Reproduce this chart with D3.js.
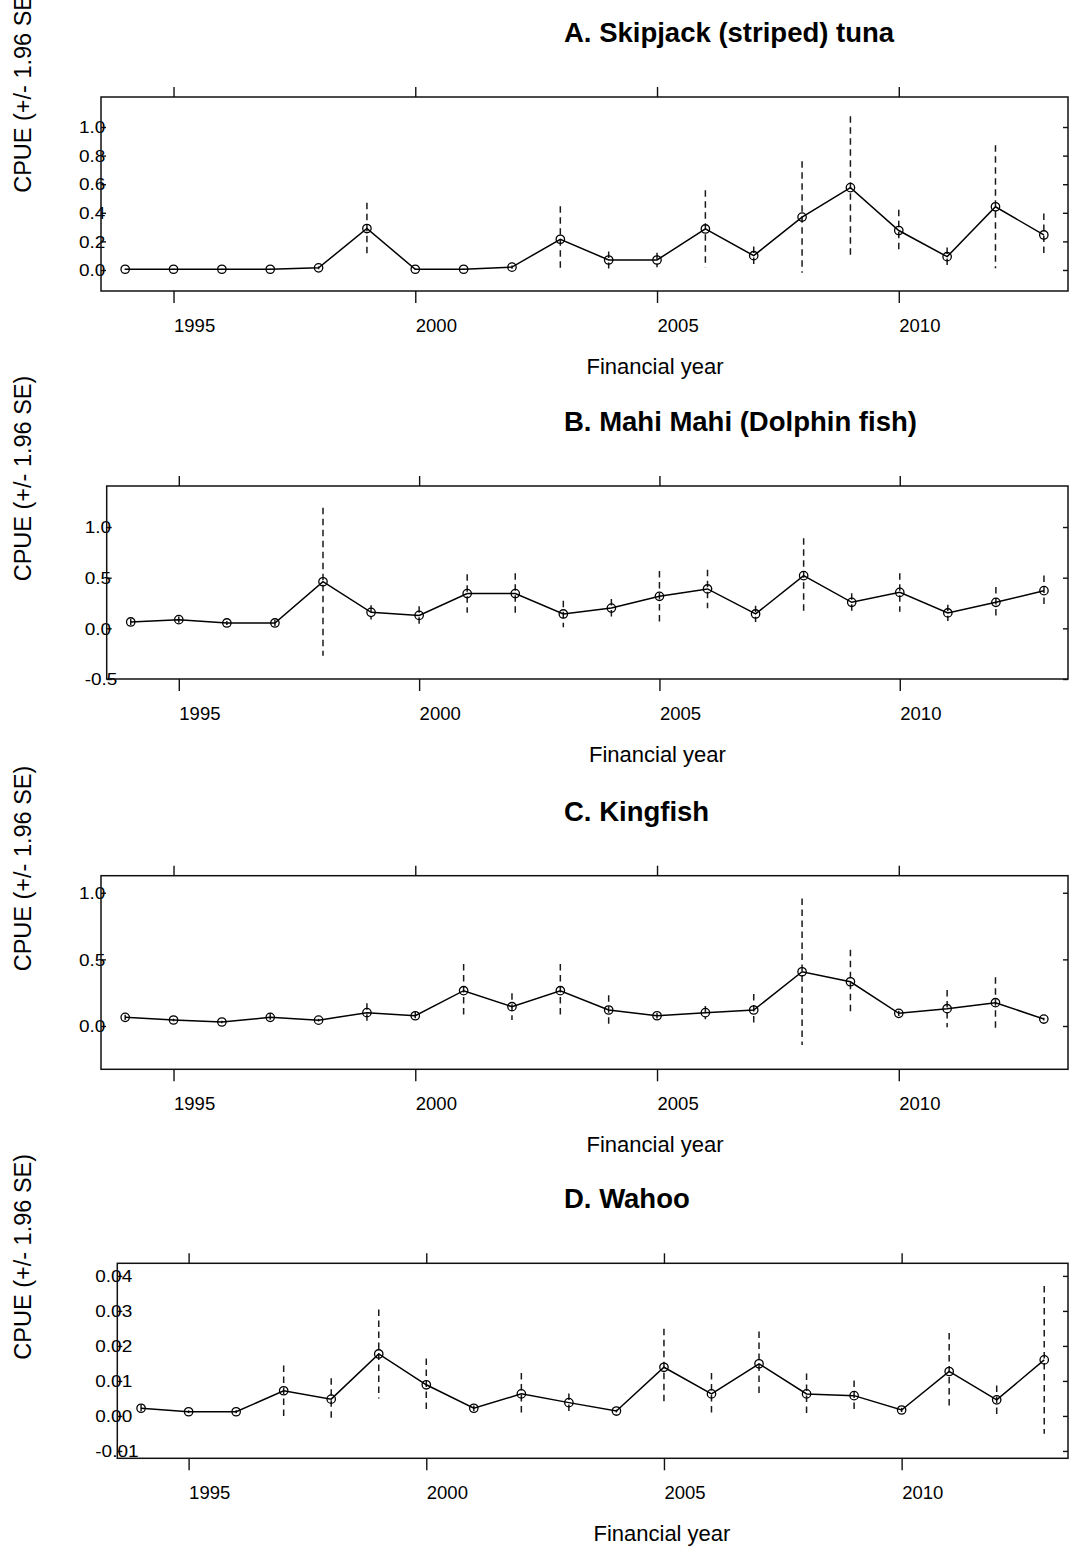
<!DOCTYPE html>
<html>
<head>
<meta charset="utf-8">
<script src="https://cdn.jsdelivr.net/npm/d3@7"></script>
<style>
  html, body { margin: 0; padding: 0; background: #fff; }
  svg { display: block; }
  text { font-family: "Liberation Sans", Arial, Helvetica, sans-serif; fill: #000; }
</style>
</head>
<body>
<svg id="chart" width="1070" height="1546"></svg>
<script>
// ---------------- data ----------------
const years = [1994,1995,1996,1997,1998,1999,2000,2001,2002,2003,2004,2005,2006,2007,2008,2009,2010,2011,2012,2013];
const xTickYears = [1995, 2000, 2005, 2010];
const xTickLabels = ["1995", "2000", "2005", "2010"];

const panelTitles = ["A. Skipjack (striped) tuna", "B. Mahi Mahi (Dolphin fish)", "C. Kingfish", "D. Wahoo"];
const xAxisTitle = "Financial year";
const yAxisTitle = "CPUE (+/- 1.96 SE)";

// A. Skipjack
const skipjackCPUE = [0.005,0.005,0.005,0.005,0.015,0.29,0.005,0.005,0.02,0.215,0.07,0.07,0.287,0.10,0.37,0.576,0.276,0.093,0.442,0.245];
const skipjackCI   = [0.004,0.004,0.004,0.004,0.01,0.18,0.004,0.004,0.012,0.23,0.06,0.05,0.27,0.065,0.39,0.50,0.145,0.065,0.43,0.15];
const skipjackYTicks = [0, 0.2, 0.4, 0.6, 0.8, 1.0];
const skipjackYLabels = ["0.0", "0.2", "0.4", "0.6", "0.8", "1.0"];

// B. Mahi Mahi
const mahiCPUE = [0.063,0.086,0.053,0.053,0.46,0.158,0.128,0.343,0.343,0.142,0.20,0.316,0.389,0.142,0.52,0.257,0.355,0.152,0.257,0.372];
const mahiCI   = [0.03,0.03,0.02,0.03,0.73,0.07,0.09,0.19,0.2,0.13,0.09,0.25,0.19,0.08,0.37,0.09,0.19,0.08,0.15,0.15];
const mahiYTicks = [-0.5, 0, 0.5, 1.0];
const mahiYLabels = ["-0.5", "0.0", "0.5", "1.0"];

// C. Kingfish
const kingfishCPUE = [0.065,0.045,0.03,0.065,0.044,0.10,0.077,0.265,0.145,0.265,0.12,0.077,0.10,0.12,0.407,0.332,0.095,0.13,0.175,0.052];
const kingfishCI   = [0.02,0.01,0.01,0.03,0.01,0.07,0.03,0.2,0.1,0.2,0.11,0.02,0.05,0.12,0.55,0.24,0.02,0.14,0.19,0.01];
const kingfishYTicks = [0, 0.5, 1.0];
const kingfishYLabels = ["0.0", "0.5", "1.0"];

// D. Wahoo
const wahooCPUE = [0.0022,0.0012,0.0012,0.0072,0.0048,0.0177,0.0089,0.0022,0.0063,0.0038,0.0014,0.0139,0.0063,0.0149,0.0063,0.0058,0.0017,0.0127,0.0046,0.016];
const wahooCI   = [0.001,0.0004,0.0004,0.0072,0.006,0.0127,0.0075,0.0008,0.006,0.0026,0.0004,0.011,0.006,0.0092,0.0058,0.0043,0.0006,0.011,0.0041,0.0211];
const wahooYTicks = [-0.01, 0.00, 0.01, 0.02, 0.03, 0.04];
const wahooYLabels = ["-0.01", "0.00", "0.01", "0.02", "0.03", "0.04"];

// ---------------- layout (not data) ----------------
const layout = [
  { left: 101,   top: 97,     bottom: 291,    yDomain: [-0.147, 1.21] },
  { left: 106.7, top: 486,    bottom: 679,    yDomain: [-0.5, 1.405] },
  { left: 101,   top: 875.7,  bottom: 1069.3, yDomain: [-0.325, 1.128] },
  { left: 117.3, top: 1263.3, bottom: 1458.3, yDomain: [-0.0121, 0.0436] }
];
const frameRight = 1068;
const xDomain = [1993.5, 2013.5];

const series = [
  { vals: skipjackCPUE, ci: skipjackCI, ticks: skipjackYTicks, labels: skipjackYLabels },
  { vals: mahiCPUE,     ci: mahiCI,     ticks: mahiYTicks,     labels: mahiYLabels },
  { vals: kingfishCPUE, ci: kingfishCI, ticks: kingfishYTicks, labels: kingfishYLabels },
  { vals: wahooCPUE,    ci: wahooCI,    ticks: wahooYTicks,    labels: wahooYLabels }
];

const svg = d3.select("#chart");
const yLabStretch = 1.15;

series.forEach((s, i) => {
  const L = layout[i];
  const x = d3.scaleLinear().domain(xDomain).range([L.left, frameRight]);
  const y = d3.scaleLinear().domain(L.yDomain).range([L.bottom, L.top]);
  const g = svg.append("g");
  const pts = years.map((yr, k) => ({ yr, v: s.vals[k], c: s.ci[k] }));

  // title
  g.append("text")
    .attr("x", 564).attr("y", L.top - 55)
    .attr("font-size", 27.5).attr("font-weight", "bold")
    .text(panelTitles[i]);

  // y axis title
  const yc = (L.top + L.bottom) / 2 - 104;
  g.append("text")
    .attr("transform", `translate(31,${yc}) rotate(-90)`)
    .attr("text-anchor", "middle")
    .attr("font-size", 23.5)
    .text(yAxisTitle);

  // x axis title
  g.append("text")
    .attr("x", x(2005) - 2).attr("y", L.bottom + 83)
    .attr("text-anchor", "middle")
    .attr("font-size", 22)
    .text(xAxisTitle);

  // bottom axis
  const xb = g.append("g").attr("transform", `translate(0,${L.bottom})`)
    .call(d3.axisBottom(x).tickValues(xTickYears).tickSize(12)
      .tickFormat((d, k) => xTickLabels[k]));
  // top axis
  const xt = g.append("g").attr("transform", `translate(0,${L.top})`)
    .call(d3.axisTop(x).tickValues(xTickYears).tickSize(10).tickFormat(""));
  // left axis (inward ticks)
  const yl = g.append("g").attr("transform", `translate(${L.left},0)`)
    .call(d3.axisLeft(y).tickValues(s.ticks).tickSize(-5)
      .tickFormat((d, k) => s.labels[k]));
  // right axis (inward ticks)
  const yr = g.append("g").attr("transform", `translate(${frameRight},0)`)
    .call(d3.axisRight(y).tickValues(s.ticks).tickSize(-5).tickFormat(""));

  [xb, xt, yl, yr].forEach(a => {
    a.select(".domain").remove();
    a.selectAll(".tick line").attr("stroke", "#111").attr("stroke-width", 1.4);
  });
  xb.selectAll(".tick text")
    .attr("text-anchor", "start").attr("x", 0).attr("y", 41).attr("dy", null)
    .attr("font-size", 18.5).attr("fill", "#000")
    .style("font-family", '"Liberation Sans", Arial, sans-serif');
  yl.selectAll(".tick text")
    .attr("text-anchor", "start")
    .attr("x", null)
    .attr("dy", "0.35em")
    .attr("transform", `translate(-22,0) scale(${yLabStretch},1)`)
    .attr("font-size", 16.5).attr("fill", "#000")
    .style("font-family", '"Liberation Sans", Arial, sans-serif');

  // frame
  g.append("rect")
    .attr("x", L.left).attr("y", L.top)
    .attr("width", frameRight - L.left).attr("height", L.bottom - L.top)
    .attr("fill", "none").attr("stroke", "#111").attr("stroke-width", 1.5);

  // error bars
  g.append("g").selectAll("line").data(pts).join("line")
    .attr("x1", d => x(d.yr)).attr("x2", d => x(d.yr))
    .attr("y1", d => y(d.v + d.c)).attr("y2", d => y(d.v - d.c))
    .attr("stroke", "#1a1a1a").attr("stroke-width", 1.5)
    .attr("stroke-dasharray", "6.5,4.5");

  // line
  g.append("path").datum(pts)
    .attr("fill", "none").attr("stroke", "#000").attr("stroke-width", 1.5)
    .attr("d", d3.line().x(d => x(d.yr)).y(d => y(d.v)));

  // points
  g.append("g").selectAll("circle").data(pts).join("circle")
    .attr("cx", d => x(d.yr)).attr("cy", d => y(d.v)).attr("r", 4.2)
    .attr("fill", "none").attr("stroke", "#000").attr("stroke-width", 1.3);
});
</script>
</body>
</html>
